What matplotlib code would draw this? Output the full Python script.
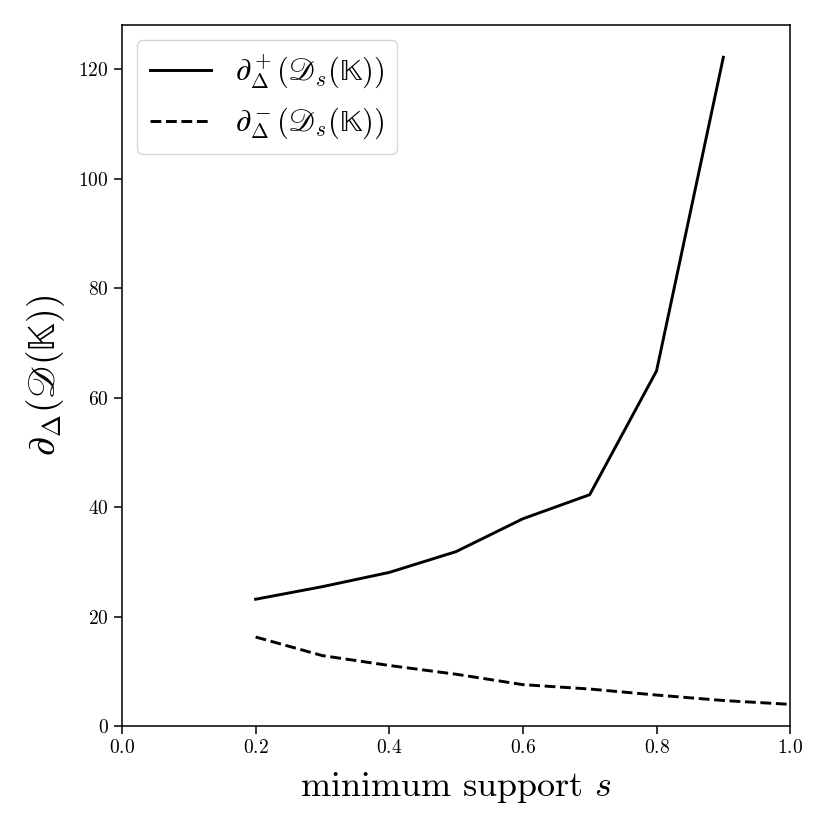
import matplotlib
matplotlib.use("Agg")
import matplotlib.pyplot as plt

plt.rcParams['font.family'] = 'serif'
plt.rcParams['font.serif'] = ['cmr10']
plt.rcParams['mathtext.fontset'] = 'cm'
plt.rcParams['axes.formatter.use_mathtext'] = True

s_plus = [0.2, 0.3, 0.4, 0.5, 0.6, 0.7, 0.8, 0.9]
plus_vals = [23.2, 25.5, 28.1, 31.9, 37.9, 42.3, 64.9, 122.2]
s_minus = [0.2, 0.3, 0.4, 0.5, 0.6, 0.7, 0.8, 0.9, 1.0]
minus_vals = [16.3, 12.9, 11.1, 9.5, 7.6, 6.8, 5.7, 4.7, 4.0]

fig = plt.figure(figsize=(8.3, 8.3), dpi=100)
ax = fig.add_axes([0.147, 0.125, 0.952 - 0.147, 0.970 - 0.125])
ax.plot(s_plus, plus_vals, color='black', lw=2.1,
        label=r'$\partial^+_\Delta(\mathscr{D}_s(𝕂))$')
ax.plot(s_minus, minus_vals, color='black', lw=2.1, ls='--',
        label=r'$\partial^-_\Delta(\mathscr{D}_s(𝕂))$')
ax.set_xlim(0, 1)
ax.set_ylim(bottom=0)
ax.set_xlabel(r'minimum support $s$', fontsize=26, labelpad=9)
ax.set_ylabel(r'$\partial_\Delta(\mathscr{D}(𝕂))$', fontsize=27, labelpad=8)
ax.tick_params(labelsize=14, length=6, width=1.1)
for sp in ax.spines.values():
    sp.set_linewidth(1.1)
ax.legend(loc='upper left', fontsize=22)
fig.savefig('out.png', dpi=100)
